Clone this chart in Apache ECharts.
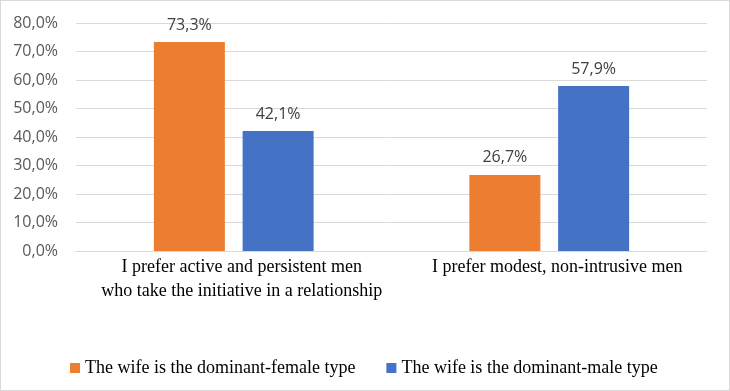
<!DOCTYPE html>
<html><head><meta charset="utf-8">
<script src="https://cdn.jsdelivr.net/npm/echarts@6/dist/echarts.min.js"></script>
<style>html,body{margin:0;padding:0;background:#fff}#c{width:730px;height:391px;box-sizing:border-box;border:1px solid #d9d9d9}</style>
</head><body><div id="c"></div>
<script>
var categories = ["I prefer active and persistent men\nwho take the initiative in a relationship", "I prefer modest, non-intrusive men"];
var seriesNames = ["The wife is the dominant-female type", "The wife is the dominant-male type"];
var dominantFemale = [73.3, 26.7];
var dominantMale = [42.1, 57.9];
var colors = ["#ED7D31", "#4472C4"];
function pct(v){ return v.toFixed(1).replace('.', ',') + '%'; }
var chart = echarts.init(document.getElementById('c'), null, {renderer:'canvas'});
var lbl = {show:true, position:'top', distance:9, color:'#404040', fontFamily:'Open Sans', fontSize:16, formatter:function(p){return pct(p.value);}};
chart.setOption({
  animation:false,
  grid:{left:75, right:22, top:22, bottom:139, containLabel:false},
  legend:{top:353, left:64, itemWidth:10, itemHeight:10, itemGap:31, icon:'rect',
    textStyle:{fontFamily:'Liberation Serif', fontSize:18, color:'#000', padding:[0,0,0,0]}, data:seriesNames},
  xAxis:{type:'category', data:categories,
    axisLine:{lineStyle:{color:'#d9d9d9'}}, axisTick:{show:false},
    axisLabel:{fontFamily:'Liberation Serif', fontSize:18, color:'#000', lineHeight:24, margin:4, interval:0, padding:[0,0,0,16]}},
  yAxis:{type:'value', min:0, max:80, interval:10,
    axisLabel:{formatter:function(v){return pct(v);}, fontFamily:'Open Sans', fontSize:16, color:'#595959', margin:18},
    splitLine:{lineStyle:{color:'#d9d9d9'}}, axisLine:{show:false}, axisTick:{show:false}},
  series:[
    {name:seriesNames[0], type:'bar', data:dominantFemale, itemStyle:{color:colors[0]}, barWidth:71, barGap:'25%', label:lbl},
    {name:seriesNames[1], type:'bar', data:dominantMale, itemStyle:{color:colors[1]}, barWidth:71, label:lbl}
  ]
});
</script></body></html>
